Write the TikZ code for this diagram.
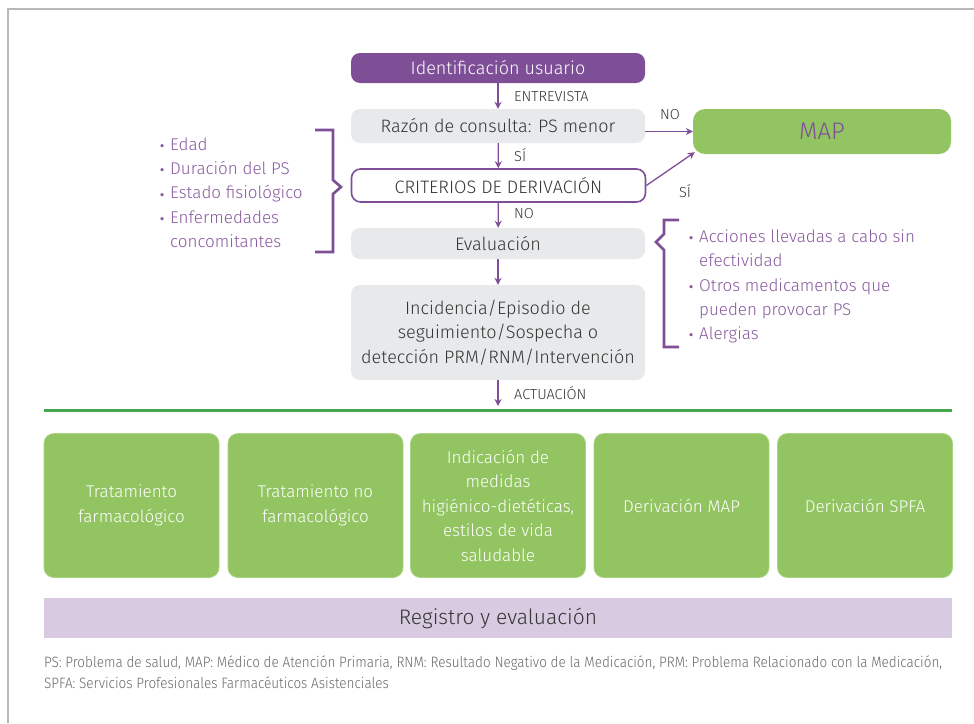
\documentclass[tikz,border=0pt]{standalone}
\usepackage{fontspec}
\IfFontExistsTF{Fira Sans Light}{%
  \setmainfont{Fira Sans Light}%
  \newfontfamily\condfont[FakeStretch=0.90]{Fira Sans Light}%
}{%
  \setmainfont{Fira Sans}%
  \newfontfamily\condfont[FakeStretch=0.90]{Fira Sans}%
}
\usetikzlibrary{arrows.meta}

\definecolor{violet}{HTML}{7E4F97}
\definecolor{violettext}{HTML}{8A5A9E}
\definecolor{boxgray}{HTML}{E7E9EB}
\definecolor{darktext}{HTML}{353535}
\definecolor{leaf}{HTML}{92C462}
\definecolor{leafedge}{HTML}{A9D37F}
\definecolor{rulegreen}{HTML}{45A84C}
\definecolor{lilac}{HTML}{D8CAE1}
\definecolor{framegray}{HTML}{B8B8B8}
\definecolor{notegray}{HTML}{6A6A6A}

\newcommand\bul{\makebox[11pt][l]{\raisebox{-0.35ex}{\scalebox{1.25}{\textbullet}}}}
\newcommand\nobul{\makebox[11pt][l]{}}

\tikzset{
  flowbox/.style={rounded corners=9pt, minimum width=294pt, inner sep=0pt,
    align=center, text=darktext, font=\fontsize{18}{24.5}\selectfont},
  graybox/.style={flowbox, fill=boxgray},
  actionbox/.style={rounded corners=10pt, fill=leaf, draw=leafedge, line width=0.8pt,
    minimum width=175pt, minimum height=144pt, inner sep=0pt, align=center,
    text=white, font=\fontsize{17}{24.5}\selectfont},
  flow/.style={draw=violet, line width=1.3pt, -{Stealth[length=7pt,width=7pt]}},
  steplabel/.style={text=darktext, font=\fontsize{14.5}{16}\selectfont, inner sep=0pt},
  bracketline/.style={draw=violet, line width=2.6pt, line join=miter},
  bullets/.style={text=violettext, align=left, inner sep=0pt,
    font=\fontsize{17}{24.3}\selectfont},
  note/.style={text=notegray, inner sep=0pt, anchor=west,
    font=\condfont\fontsize{15}{18}\selectfont}
}

\begin{document}
\begin{tikzpicture}[x=1pt, y=-1pt]
  \useasboundingbox (0,0) rectangle (974,723);
  \fill[white] (0,0) rectangle (974,723);
  % outer frame
  \draw[framegray, line width=1.6pt] (8,723) -- (8,9) -- (974,9);

  % main flow
  \node[flowbox, fill=violet, text=white, minimum height=30pt] (ident) at (498,68) {Identificación usuario};
  \node[graybox, minimum height=34pt] (razon) at (498,126) {Razón de consulta: PS menor};
  \node[flowbox, draw=violet, line width=1.6pt, fill=white, minimum height=33pt] (crit) at (498.5,185.5) {CRITERIOS DE DERIVACIÓN};
  \node[graybox, minimum height=31pt] (eval) at (498,243.5) {Evaluación};
  \node[graybox, minimum height=95pt] (inc) at (498,332.5) {Incidencia/Episodio de\\seguimiento/Sospecha o\\detección PRM/RNM/Intervención};
  \node[rounded corners=12pt, fill=leaf, minimum width=258pt, minimum height=45pt,
        text=violet, font=\fontsize{24}{28}\selectfont] (map) at (822,131.5) {MAP};

  \coordinate (act) at (498,406);

  \draw[flow] (ident) -- (razon);
  \draw[flow] (razon) -- (crit);
  \draw[flow] (crit) -- (eval);
  \draw[flow] (eval) -- (inc);
  \draw[flow] (inc) -- (act);
  \draw[flow] (razon.east |- map.west) -- (map.west);
  \draw[flow] (crit.east) -- ([xshift=2pt,yshift=2pt]map.south west);

  \node[steplabel, anchor=west] (lentre) at (514,97) {ENTREVISTA};
  \node[steplabel, anchor=west] (lsi1) at (514,155) {SÍ};
  \node[steplabel, anchor=west] (lno1) at (514,214) {NO};
  \node[steplabel, anchor=west] (lact) at (514,393) {ACTUACIÓN};
  \node[steplabel] (lno2) at (670,115) {NO};
  \node[steplabel] (lsi2) at (685,191) {SÍ};

  % derivation criteria
  \draw[bracketline] (315,130) -- (333,130) -- (333,180) -- (341,187) -- (333,194) -- (333,252) -- (315,252);
  \node[bullets, anchor=north west] (crit-list) at (159,137.5)
    {\bul Edad\\\bul Duración del PS\\\bul Estado fisiológico\\\bul Enfermedades\\\nobul concomitantes};

  % evaluation aspects
  \draw[bracketline] (679,220) -- (664,220) -- (664,234) -- (656,242) -- (664,250) -- (664,347) -- (679,347);
  \node[bullets, anchor=north west] (eval-list) at (688,229.5)
    {\bul Acciones llevadas a cabo sin\\\nobul efectividad\\\bul Otros medicamentos que\\\nobul pueden provocar PS\\\bul Alergias};

  % action separator
  \draw[rulegreen, line width=3.5pt] (44,410.5) -- (952,410.5);

  % actions
  \node[actionbox] (a1) at (131.5,505.5) {Tratamiento\\farmacológico};
  \node[actionbox] (a2) at (315.5,505.5) {Tratamiento no\\farmacológico};
  \node[actionbox] (a3) at (498,505.5) {Indicación de\\medidas\\higiénico-dietéticas,\\estilos de vida\\saludable};
  \node[actionbox] (a4) at (681.5,505.5) {Derivación MAP};
  \node[actionbox] (a5) at (865,505.5) {Derivación SPFA};

  % record band
  \node[fill=lilac, minimum width=908pt, minimum height=40pt, inner sep=0pt,
        text=darktext, font=\fontsize{21}{26}\selectfont] (reg) at (498,618) {Registro y evaluación};

  % abbreviations
  \node[note] (n1) at (44,663) {PS: Problema de salud, MAP: Médico de Atención Primaria, RNM: Resultado Negativo de la Medicación, PRM: Problema Relacionado con la Medicación,};
  \node[note] (n2) at (44,683) {SPFA: Servicios Profesionales Farmacéuticos Asistenciales};
\end{tikzpicture}
\end{document}
